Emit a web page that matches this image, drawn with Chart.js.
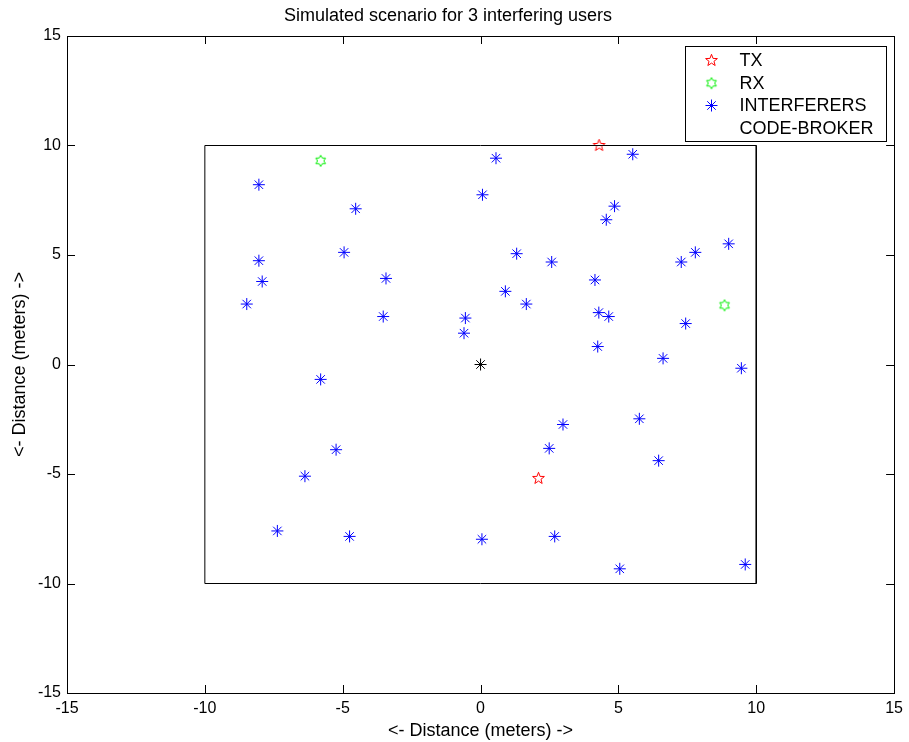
<!DOCTYPE html>
<html>
<head>
<meta charset="utf-8">
<script src="https://cdn.jsdelivr.net/npm/chart.js@4/dist/chart.umd.min.js"></script>
<style>
  html, body { margin: 0; padding: 0; background: #fff; }
  #wrap { width: 909px; height: 742px; }
</style>
</head>
<body>
<div id="wrap"><canvas id="c" width="909" height="742"></canvas></div>
<script>
// ---- data ----
const chartTitle = "Simulated scenario for 3 interfering users";
const xAxisLabel = "<- Distance (meters) ->";
const yAxisLabel = "<- Distance (meters) ->";
const tickValues = [-15, -10, -5, 0, 5, 10, 15];

const txX = [4.3, 2.1];
const txY = [10.0, -5.2];

const rxX = [-5.8, 8.85];
const rxY = [9.3, 2.7];

const intX = [-8.04, -4.53, -4.95, -8.04, -7.92, -3.43, -8.48, -3.53, -5.80,
              0.56, 5.52, 0.07, 4.86, 4.56, 1.31, 2.58, 4.15, 0.90, 1.66,
              -0.55, 4.29, 4.65, -0.60, 4.25, 6.62,
              9.00, 7.79, 7.28, 7.44, 9.46,
              -5.24, -6.37, -7.37, -4.75,
              2.99, 5.76, 6.46, 2.49, 0.05, 2.69, 5.05,
              9.60];
const intY = [8.21, 7.11, 5.12, 4.74, 3.79, 3.93, 2.76, 2.19, -0.68,
              9.42, 9.60, 7.75, 7.23, 6.61, 5.06, 4.68, 3.86, 3.34, 2.76,
              2.12, 2.37, 2.19, 1.43, 0.82, 0.28,
              5.51, 5.12, 4.68, 1.87, -0.17,
              -3.89, -5.10, -7.60, -7.85,
              -2.74, -2.48, -4.39, -3.83, -7.98, -7.85, -9.33,
              -9.13];

const brokerX = [0];
const brokerY = [0];

const boundaryX = [-10, -10, 10, 10, -10];
const boundaryY = [-10, 10, 10, -10, -10];

const legendLabels = ["TX", "RX", "INTERFERERS", "CODE-BROKER"];

// ---- helpers ----
const zip = (xs, ys) => xs.map((x, i) => ({ x: x, y: ys[i] }));

function starCanvas(nPoints, outerR, innerR, color, rot) {
  const s = Math.ceil(outerR * 2 + 4);
  const cv = document.createElement('canvas');
  cv.width = s; cv.height = s;
  const g = cv.getContext('2d');
  g.translate(s / 2, s / 2);
  g.beginPath();
  for (let i = 0; i < nPoints * 2; i++) {
    const r = (i % 2 === 0) ? outerR : innerR;
    const a = rot + i * Math.PI / nPoints;
    const px = r * Math.cos(a), py = r * Math.sin(a);
    if (i === 0) g.moveTo(px, py); else g.lineTo(px, py);
  }
  g.closePath();
  g.strokeStyle = color;
  g.lineWidth = 1;
  g.stroke();
  return cv;
}

const pentagram = starCanvas(5, 6.2, 2.6, '#ff0000', -Math.PI / 2);
const hexagram = starCanvas(6, 5.6, 3.2, '#00ee00', -Math.PI / 2);

const FONT = '"Liberation Sans", Arial, Helvetica, sans-serif';

// frame + inward ticks
const framePlugin = {
  id: 'frame',
  afterDraw(chart) {
    const { ctx, chartArea: a, scales } = chart;
    ctx.save();
    ctx.strokeStyle = '#000';
    ctx.lineWidth = 1;
    ctx.beginPath();
    ctx.rect(Math.round(a.left) + 0.5, Math.round(a.top) + 0.5,
             Math.round(a.right - a.left), Math.round(a.bottom - a.top));
    ctx.stroke();
    const L = 8;
    ctx.beginPath();
    tickValues.forEach(v => {
      const px = Math.round(scales.x.getPixelForValue(v)) + 0.5;
      ctx.moveTo(px, a.bottom); ctx.lineTo(px, a.bottom - L);
      ctx.moveTo(px, a.top); ctx.lineTo(px, a.top + L);
      const py = Math.round(scales.y.getPixelForValue(v)) + 0.5;
      ctx.moveTo(a.left, py); ctx.lineTo(a.left + L, py);
      ctx.moveTo(a.right, py); ctx.lineTo(a.right - L, py);
    });
    ctx.stroke();
    ctx.restore();
  }
};

// legend box inside the plot
const boxLegendPlugin = {
  id: 'boxLegend',
  afterDraw(chart) {
    const { ctx, chartArea: a } = chart;
    const w = 201, h = 95;
    const bx = Math.round(a.right - 8.5 - w) + 0.5;
    const by = Math.round(a.top + 10) + 0.5;
    ctx.save();
    ctx.fillStyle = '#fff';
    ctx.fillRect(bx, by, w, h);
    ctx.strokeStyle = '#000';
    ctx.lineWidth = 1;
    ctx.strokeRect(bx, by, w, h);
    const rowY = [14, 36.7, 59, 81.3];
    const mx = bx + 26, tx = bx + 54;
    ctx.font = '18px ' + FONT;
    ctx.fillStyle = '#000';
    ctx.textBaseline = 'middle';
    ctx.textAlign = 'left';
    legendLabels.forEach((lab, i) => {
      const y = by + rowY[i];
      if (i === 0) ctx.drawImage(pentagram, mx - pentagram.width / 2, y - pentagram.height / 2);
      if (i === 1) ctx.drawImage(hexagram, mx - hexagram.width / 2, y - hexagram.height / 2);
      if (i === 2) {
        ctx.save();
        ctx.strokeStyle = '#0000ff';
        ctx.lineWidth = 1;
        Chart.helpers.drawPoint(ctx, { pointStyle: 'star', radius: 6, rotation: 0, borderWidth: 1 }, mx, y);
        ctx.restore();
      }
      ctx.fillText(lab, tx, y + 1);
    });
    ctx.restore();
  }
};

new Chart(document.getElementById('c'), {
  type: 'scatter',
  data: {
    datasets: [
      { label: 'boundary', data: zip(boundaryX, boundaryY), showLine: true,
        borderColor: '#000', borderWidth: 1, pointRadius: 0, fill: false, tension: 0 },
      { label: legendLabels[0], data: zip(txX, txY), pointStyle: pentagram,
        borderColor: '#ff0000', backgroundColor: 'transparent' },
      { label: legendLabels[1], data: zip(rxX, rxY), pointStyle: hexagram,
        borderColor: '#00ee00', backgroundColor: 'transparent' },
      { label: legendLabels[2], data: zip(intX, intY), pointStyle: 'star', pointRadius: 6,
        borderColor: '#0000ff', backgroundColor: '#0000ff', borderWidth: 1 },
      { label: legendLabels[3], data: zip(brokerX, brokerY), pointStyle: 'star', pointRadius: 6,
        borderColor: '#000', backgroundColor: '#000', borderWidth: 1 }
    ]
  },
  options: {
    responsive: false,
    animation: false,
    devicePixelRatio: 1,
    layout: { padding: { left: 0, right: 13, top: 0, bottom: 0 } },
    plugins: {
      legend: { display: false },
      tooltip: { enabled: false },
      title: {
        display: true, text: chartTitle, color: '#000',
        font: { family: FONT, size: 18, weight: 'normal' },
        padding: { top: 5, bottom: 9.4 }
      }
    },
    scales: {
      x: {
        type: 'linear', min: -15, max: 15,
        afterFit(s) { s.height = 49; },
        ticks: { stepSize: 5, color: '#000', padding: 6, font: { family: FONT, size: 16 }, maxRotation: 0 },
        grid: { display: false, drawTicks: false },
        border: { display: true, color: '#000' },
        title: { display: true, text: xAxisLabel, color: '#000',
                 font: { family: FONT, size: 18 }, padding: { top: 0, bottom: 0 } }
      },
      y: {
        type: 'linear', min: -15, max: 15,
        afterFit(s) { s.width = 67; },
        ticks: { stepSize: 5, color: '#000', padding: 6, font: { family: FONT, size: 16 } },
        grid: { display: false, drawTicks: false },
        border: { display: true, color: '#000' },
        title: { display: true, text: yAxisLabel, color: '#000',
                 font: { family: FONT, size: 18 }, padding: { top: 9, bottom: 0 } }
      }
    }
  },
  plugins: [framePlugin, boxLegendPlugin]
});
</script>
</body>
</html>
